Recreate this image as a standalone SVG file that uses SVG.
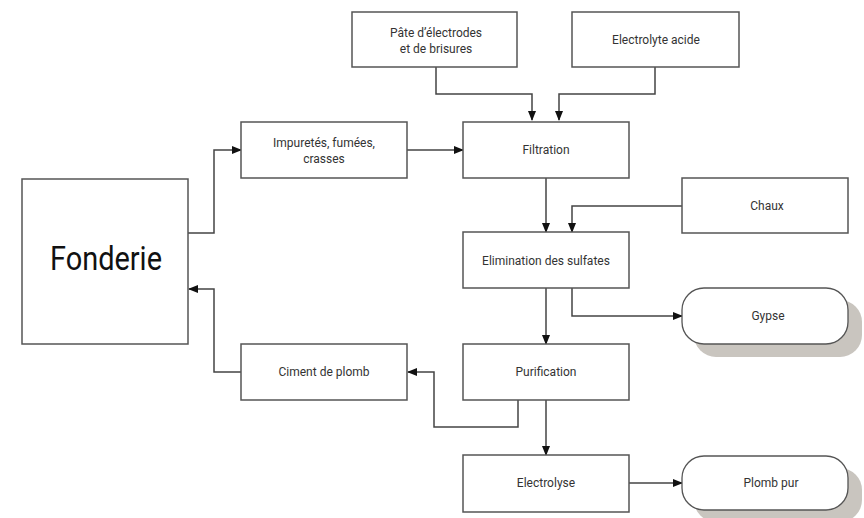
<svg xmlns="http://www.w3.org/2000/svg" width="864" height="518" viewBox="0 0 864 518">
<style>
.box{fill:#fff;stroke:#555;stroke-width:1.5}
.term{fill:#fff;stroke:#555;stroke-width:1.3}
.shadow{fill:#c9c5bf}
.t{font-family:Roboto,"Liberation Sans",sans-serif;font-size:12px;fill:#333;text-anchor:middle}
.big{font-family:Roboto,"Liberation Sans",sans-serif;font-size:33px;fill:#111;text-anchor:middle}
.c{fill:none;stroke:#444;stroke-width:1.5}
</style>
<defs>
<marker id="ah" markerWidth="10" markerHeight="8" refX="9" refY="4" orient="auto" markerUnits="userSpaceOnUse">
<path d="M0,0 L10,4 L0,8 Z" fill="#111"/>
</marker>
</defs>
<rect width="864" height="518" fill="#fff"/>
<g id="connectors">
<path class="c" d="M436,67 V94 H532 V120" marker-end="url(#ah)"/>
<path class="c" d="M655,67 V94 H559 V120" marker-end="url(#ah)"/>
<path class="c" d="M188,233 H214 V150 H241" marker-end="url(#ah)"/>
<path class="c" d="M407,150 H463" marker-end="url(#ah)"/>
<path class="c" d="M241,372 H214 V289 H189" marker-end="url(#ah)"/>
<path class="c" d="M546,178 V232" marker-end="url(#ah)"/>
<path class="c" d="M682,206 H572 V232" marker-end="url(#ah)"/>
<path class="c" d="M572,288 V316 H682" marker-end="url(#ah)"/>
<path class="c" d="M546,288 V344" marker-end="url(#ah)"/>
<path class="c" d="M518,400 V427 H434 V372 H408" marker-end="url(#ah)"/>
<path class="c" d="M546,400 V455" marker-end="url(#ah)"/>
<path class="c" d="M629,483 H682" marker-end="url(#ah)"/>
</g>
<g id="pate"><rect class="box" x="352" y="12" width="165" height="55"/><text class="t" x="436" y="37">Pâte d’électrodes</text><text class="t" x="436" y="53">et de brisures</text></g>
<g id="electrolyte"><rect class="box" x="572" y="12" width="167" height="55"/><text class="t" x="656" y="44">Electrolyte acide</text></g>
<g id="fonderie"><rect class="box" x="22" y="179" width="166" height="165"/><text class="big" x="106" y="270" textLength="112" lengthAdjust="spacingAndGlyphs">Fonderie</text></g>
<g id="impuretes"><rect class="box" x="241" y="122" width="166" height="56"/><text class="t" x="324" y="147">Impuretés, fumées,</text><text class="t" x="324" y="163">crasses</text></g>
<g id="filtration"><rect class="box" x="463" y="122" width="166" height="56"/><text class="t" x="546" y="154">Filtration</text></g>
<g id="chaux"><rect class="box" x="682" y="178" width="166" height="55"/><text class="t" x="767" y="210">Chaux</text></g>
<g id="elimination"><rect class="box" x="463" y="232" width="166" height="56"/><text class="t" x="546" y="265">Elimination des sulfates</text></g>
<g id="gypse"><rect class="shadow" x="694" y="300" width="168" height="57" rx="22"/><rect class="term" x="682" y="288" width="166" height="56" rx="22"/><text class="t" x="768" y="320">Gypse</text></g>
<g id="ciment"><rect class="box" x="241" y="344" width="166" height="56"/><text class="t" x="324" y="376">Ciment de plomb</text></g>
<g id="purification"><rect class="box" x="463" y="344" width="166" height="56"/><text class="t" x="546" y="376">Purification</text></g>
<g id="electrolyse"><rect class="box" x="463" y="455" width="166" height="57"/><text class="t" x="546" y="487">Electrolyse</text></g>
<g id="plomb"><rect class="shadow" x="694" y="468" width="168" height="54" rx="22"/><rect class="term" x="682" y="456" width="166" height="54" rx="22"/><text class="t" x="771" y="487">Plomb pur</text></g>
</svg>
